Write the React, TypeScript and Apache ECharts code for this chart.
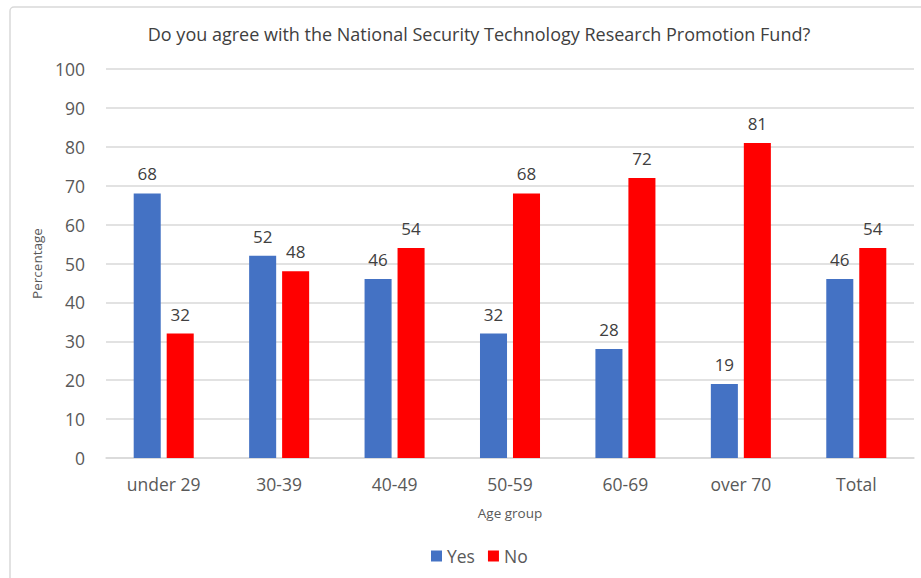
import React, { useEffect, useRef } from "react";
import * as echarts from "echarts";

const categories = ["under 29", "30-39", "40-49", "50-59", "60-69", "over 70", "Total"];
const yesValues = [68, 52, 46, 32, 28, 19, 46];
const noValues = [32, 48, 54, 68, 72, 81, 54];
const seriesNames = ["Yes", "No"];
const titleText = "Do you agree with the National Security Technology Research Promotion Fund?";

const FONT = "'Open Sans', 'Noto Sans', sans-serif";

export default function App() {
  const ref = useRef<HTMLDivElement>(null);
  useEffect(() => {
    if (!ref.current) return;
    const chart = echarts.init(ref.current, undefined, { renderer: "svg" });
    const label = {
      show: true,
      position: "top",
      distance: 11,
      color: "#404040",
      fontSize: 17,
      fontFamily: FONT,
    };
    chart.setOption({
      animation: false,
      backgroundColor: "#ffffff",
      title: {
        text: titleText,
        left: 474,
        textAlign: "center",
        top: 20,
        textStyle: { fontFamily: FONT, fontSize: 18, fontWeight: "normal", color: "#404040" },
      },
      graphic: [
        {
          type: "rect",
          shape: { x: 10, y: 7, width: 930, height: 600, r: 4 },
          style: { fill: "none", stroke: "#d9d9d9", lineWidth: 1.5 },
          silent: true,
        },
      ],
      legend: {
        data: seriesNames,
        bottom: 8,
        left: 426,
        itemWidth: 11,
        itemHeight: 11,
        itemGap: 13,
        icon: "rect",
        textStyle: { fontFamily: FONT, fontSize: 17.5, color: "#595959" },
      },
      grid: { left: 106, right: 7, top: 69, bottom: 120 },
      xAxis: {
        type: "category",
        data: categories,
        name: "Age group",
        nameLocation: "middle",
        nameGap: 48,
        nameTextStyle: { fontFamily: FONT, fontSize: 13.5, color: "#595959" },
        axisLine: { lineStyle: { color: "#d9d9d9", width: 1.5 } },
        axisTick: { show: false },
        axisLabel: { fontFamily: FONT, fontSize: 17.5, color: "#595959", margin: 17 },
      },
      yAxis: {
        type: "value",
        min: 0,
        max: 100,
        interval: 10,
        name: "Percentage",
        nameLocation: "middle",
        nameGap: 58,
        nameTextStyle: { fontFamily: FONT, fontSize: 13.5, color: "#595959" },
        axisLine: { show: false },
        axisTick: { show: false },
        axisLabel: { fontFamily: FONT, fontSize: 17.5, color: "#595959", margin: 21 },
        splitLine: { lineStyle: { color: "#d9d9d9", width: 1.5 } },
      },
      series: [
        {
          name: seriesNames[0],
          type: "bar",
          data: yesValues,
          itemStyle: { color: "#4472C4" },
          barGap: "22%",
          barCategoryGap: "48%",
          label,
        },
        {
          name: seriesNames[1],
          type: "bar",
          data: noValues,
          itemStyle: { color: "#FF0000" },
          barGap: "22%",
          barCategoryGap: "48%",
          label,
        },
      ],
    });
    return () => chart.dispose();
  }, []);
  return (
    <div
      ref={ref}
      style={{ position: "fixed", left: 0, top: 0, width: 921, height: 578 }}
    />
  );
}
